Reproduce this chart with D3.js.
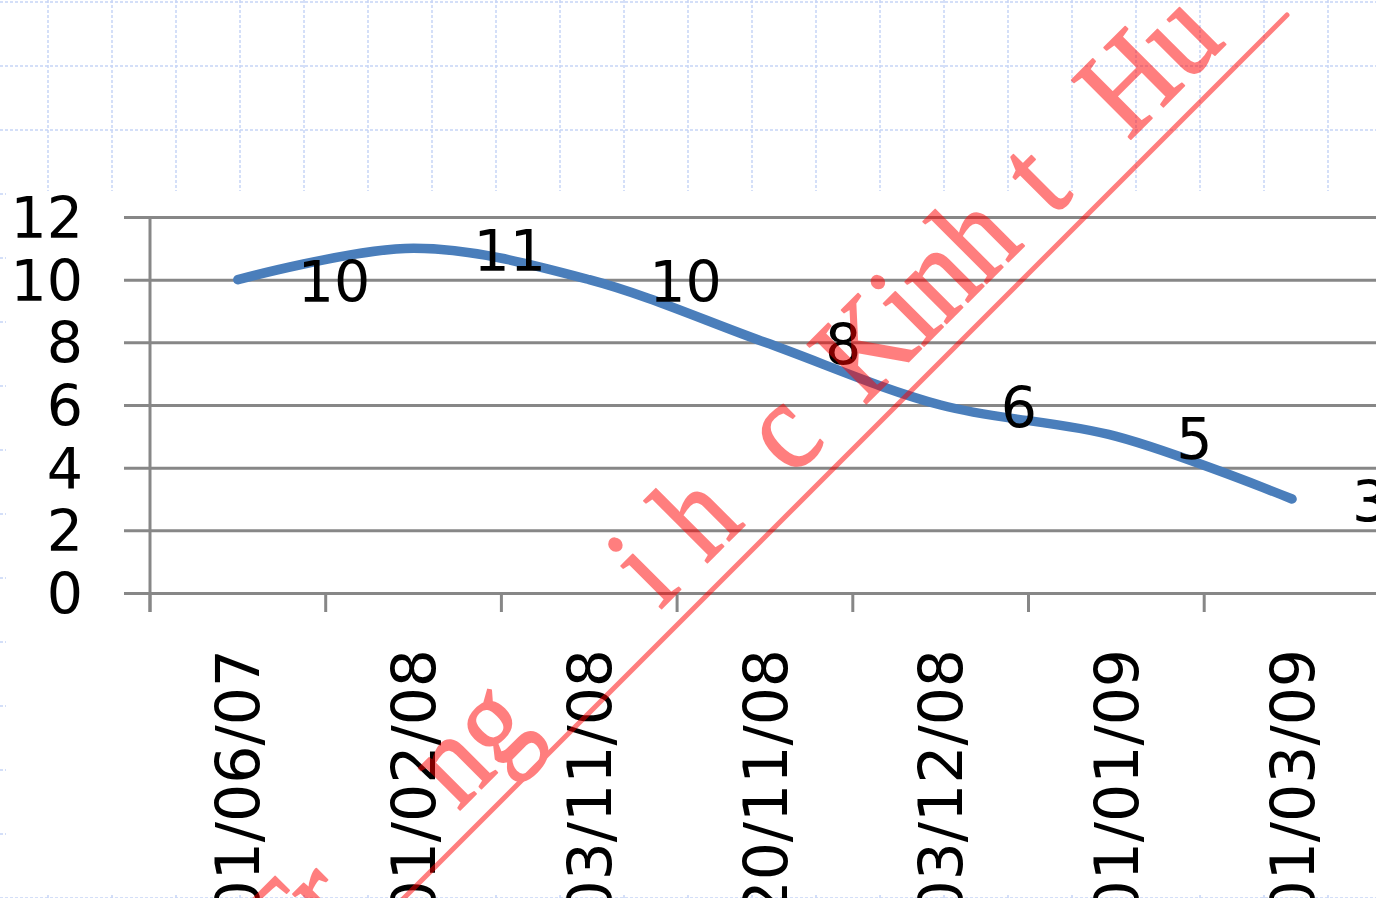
<!DOCTYPE html>
<html>
<head>
<meta charset="utf-8">
<script src="https://cdn.jsdelivr.net/npm/d3@7"></script>
<style>
  html, body { margin: 0; padding: 0; background: #ffffff; }
  svg { display: block; }
</style>
</head>
<body>
<svg id="chart" width="1376" height="898"></svg>
<script>
// Survey dates and the index value recorded on each
const categories = ["01/06/07", "01/02/08", "03/11/08", "20/11/08", "03/12/08", "01/01/09", "01/03/09"];
const values = [10, 11, 10, 8, 6, 5, 3];
const yTicks = [0, 2, 4, 6, 8, 10, 12];

// Watermark text pieces and where each one starts along the slanted baseline
const watermarkParts = ["Tr", "ng", "i", "h", "c", "Kinh", "t", "Hu"];
const watermarkStarts = [-493, -250, 35, 100, 222, 324, 590, 698];

const W = 1376, H = 898;
const svg = d3.select("#chart");

// ---- slide background: light dashed grid ----
const bg = svg.append("g");
bg.append("rect").attr("width", W).attr("height", H).attr("fill", "#ffffff");
const gridStep = 64;
bg.selectAll("line.gh").data(d3.range(2, H + 2, gridStep)).join("line")
  .attr("x1", 0).attr("x2", W).attr("y1", d => d).attr("y2", d => d)
  .attr("stroke", "#c6d5f6").attr("stroke-width", 1.5).attr("stroke-dasharray", "3,2");
bg.selectAll("line.gv").data(d3.range(48, W, gridStep)).join("line")
  .attr("x1", d => d).attr("x2", d => d).attr("y1", 0).attr("y2", H)
  .attr("stroke", "#c6d5f6").attr("stroke-width", 1.5).attr("stroke-dasharray", "3,2");

// chart area covers the grid
svg.append("rect").attr("x", 6).attr("y", 191).attr("width", W - 6).attr("height", 704)
  .attr("fill", "#ffffff");

// ---- scales ----
const x = d3.scaleBand().domain(categories).range([150, 150 + 175.7 * categories.length]).padding(0);
const y = d3.scaleLinear().domain([0, 12]).range([593, 217]);
const xc = d => x(d) + x.bandwidth() / 2;

const axisColor = "#878787";
const numFont = "'DejaVu Sans', Verdana, sans-serif";

// horizontal gridlines (also act as the y tick marks left of the axis)
const yAxis = d3.axisLeft(y).tickValues(yTicks).tickSize(-(W - 124)).tickFormat(d => d).tickPadding(0);
const gy = svg.append("g").attr("transform", "translate(124,0)").call(yAxis);
gy.select(".domain").remove();
gy.selectAll(".tick line").attr("stroke", axisColor).attr("stroke-width", 3);
gy.selectAll(".tick text")
  .attr("x", -41).attr("dy", "0.36em")
  .attr("font-family", numFont).attr("font-size", 57).attr("fill", "#000")
  .attr("text-anchor", "end");

// vertical axis line
svg.append("line").attr("x1", 150).attr("x2", 150).attr("y1", y(12)).attr("y2", 612)
  .attr("stroke", axisColor).attr("stroke-width", 3);

// category tick marks sit between categories
const tickPositions = categories.map(c => x(c));
svg.selectAll("line.xt").data(tickPositions).join("line")
  .attr("x1", d => d).attr("x2", d => d).attr("y1", y(0)).attr("y2", 612)
  .attr("stroke", axisColor).attr("stroke-width", 3);

// rotated category labels (they run past the bottom edge of the slide)
svg.selectAll("text.xl").data(categories).join("text")
  .attr("transform", d => `translate(${xc(d)},649) rotate(-90)`)
  .attr("text-anchor", "end").attr("dy", "0.36em")
  .attr("font-family", numFont).attr("font-size", 60).attr("fill", "#000")
  .text(d => d);

// ---- smoothed series line ----
const line = d3.line()
  .x((d, i) => xc(categories[i]))
  .y(d => y(d))
  .curve(d3.curveCatmullRom.alpha(0.5));
svg.append("path").datum(values)
  .attr("d", line)
  .attr("fill", "none").attr("stroke", "#4a7ebb").attr("stroke-width", 9.5)
  .attr("stroke-linecap", "round").attr("stroke-linejoin", "round");

// value labels to the right of each point
svg.selectAll("text.vl").data(values).join("text")
  .attr("x", (d, i) => xc(categories[i]) + 60)
  .attr("y", d => y(d) + 2)
  .attr("dy", "0.36em")
  .attr("font-family", numFont).attr("font-size", 57).attr("fill", "#000")
  .text(d => d);

// ---- watermark ----
const wmBase = 1270;              // baseline satisfies x + y = wmBase
const wm = svg.append("g").attr("opacity", 0.5);
wm.append("line")
  .attr("x1", 1287).attr("y1", 15).attr("x2", 1302 - 960).attr("y2", 960)
  .attr("stroke", "#ff0000").attr("stroke-width", 5).attr("stroke-linecap", "round");
const wmText = wm.append("text")
  .attr("transform", `translate(${wmBase / 2},${wmBase / 2}) rotate(-45) scale(1,1.12)`)
  .attr("font-family", "'Liberation Serif', 'Times New Roman', serif")
  .attr("font-size", 114).attr("fill", "#ff0000")
  .attr("stroke", "#ff0000").attr("stroke-width", 1.6).attr("stroke-linejoin", "round");
wmText.selectAll("tspan").data(watermarkParts).join("tspan")
  .attr("x", (d, i) => watermarkStarts[i]).attr("y", 0)
  .text(d => d);
</script>
</body>
</html>
